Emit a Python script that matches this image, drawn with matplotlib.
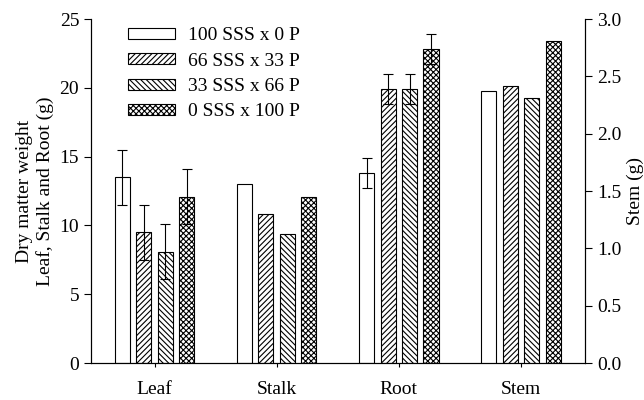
import numpy as np
import matplotlib.pyplot as plt

plt.rcParams['font.family'] = ['Liberation Serif', 'DejaVu Serif']
plt.rcParams['hatch.linewidth'] = 0.8

categories = ['Leaf', 'Stalk', 'Root', 'Stem']
treatments = ['100 SSS x 0 P', '66 SSS x 33 P', '33 SSS x 66 P', '0 SSS x 100 P']

# left axis groups: Leaf, Stalk, Root (g)
left_vals = [
    [13.5, 13.0, 13.8],
    [9.5, 10.8, 19.9],
    [8.1, 9.4, 19.9],
    [12.1, 12.1, 22.8],
]
left_err = [
    [2.0, 0, 1.1],
    [2.0, 0, 1.1],
    [2.0, 0, 1.1],
    [2.0, 0, 1.1],
]
# right axis group: Stem (g)
stem_vals = [2.37, 2.42, 2.31, 2.81]

hatches = ['', '//////', '\\\\\\\\\\\\', 'xxxxxx']

fig = plt.figure(figsize=(6.44, 4.0), dpi=100)
ax = fig.add_axes([0.1413, 0.0925, 0.7671, 0.86])
ax2 = ax.twinx()

width = 0.123
step = 0.176
x = np.arange(3)
for i in range(4):
    off = (i - 1.5) * step
    err = [e if e > 0 else np.nan for e in left_err[i]]
    ax.bar(x + off, left_vals[i], width, color='white', edgecolor='black',
           linewidth=0.8, hatch=hatches[i], label=treatments[i], zorder=2)
    ax.errorbar(x + off, left_vals[i], yerr=err, fmt='none', ecolor='black',
                elinewidth=0.8, capsize=3.5, capthick=0.8, zorder=3)
    ax2.bar(3 + off, stem_vals[i], width, color='white', edgecolor='black',
            linewidth=0.8, hatch=hatches[i], zorder=2)

ax.set_xlim(-0.52, 3.525)
ax.set_ylim(0, 25)
ax2.set_ylim(0, 3.0)
ax.set_xticks(range(4))
ax.set_xticklabels(categories)
ax.set_yticks([0, 5, 10, 15, 20, 25])
ax2.set_yticks([0, 0.5, 1.0, 1.5, 2.0, 2.5, 3.0])
ax2.set_yticklabels(['0.0', '0.5', '1.0', '1.5', '2.0', '2.5', '3.0'])

for a in (ax, ax2):
    a.spines['top'].set_visible(False)
    a.tick_params(labelsize=14, width=0.8, length=5, direction='out')
ax.tick_params(axis='x', length=3, pad=10)
ax.set_ylabel('Dry matter weight\nLeaf, Stalk and Root (g)', fontsize=14, labelpad=4)
ax2.set_ylabel('Stem (g)', fontsize=14)

ax.legend(loc='upper left', bbox_to_anchor=(0.052, 1.01), frameon=False, fontsize=14,
          handlelength=2.4, handleheight=0.5, labelspacing=0.43, handletextpad=0.65,
          borderaxespad=0.2)

fig.savefig('out.png', dpi=100)
